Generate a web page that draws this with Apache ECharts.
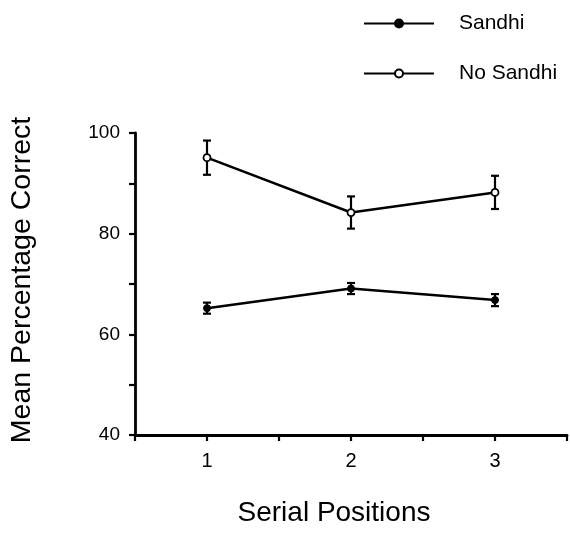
<!DOCTYPE html>
<html>
<head>
<meta charset="utf-8">
<script src="https://cdn.jsdelivr.net/npm/echarts@6/dist/echarts.min.js"></script>
<style>html,body{margin:0;padding:0;background:#fff;}#c{width:570px;height:533px;}</style>
</head>
<body>
<div id="c"></div>
<script>
var positions = [1, 2, 3];
var xTickLabels = ['1', '2', '3'];
var yTickLabels = [40, 60, 80, 100];
var sandhiMean = [65.2, 69.1, 66.8];
var sandhiErr = [1.1, 1.1, 1.2];
var noSandhiMean = [95.1, 84.2, 88.2];
var noSandhiErr = [3.4, 3.2, 3.3];
var seriesNames = ['Sandhi', 'No Sandhi'];
var xTitle = 'Serial Positions';
var yTitle = 'Mean Percentage Correct';

var FONT = '"Liberation Sans", Arial, Helvetica, sans-serif';

function pts(means) { return positions.map(function (p, i) { return [p, means[i]]; }); }
function errs(means, e) { return positions.map(function (p, i) { return [p, means[i] - e[i], means[i] + e[i]]; }); }

function errRender(params, api) {
  var x = api.value(0);
  var lo = api.coord([x, api.value(1)]);
  var hi = api.coord([x, api.value(2)]);
  var w = 4;
  var st = { stroke: '#000', lineWidth: 2.2 };
  return { type: 'group', children: [
    { type: 'line', shape: { x1: lo[0], y1: lo[1], x2: hi[0], y2: hi[1] }, style: st },
    { type: 'line', shape: { x1: lo[0] - w, y1: lo[1], x2: lo[0] + w, y2: lo[1] }, style: st },
    { type: 'line', shape: { x1: hi[0] - w, y1: hi[1], x2: hi[0] + w, y2: hi[1] }, style: st }
  ]};
}

var chart = echarts.init(document.getElementById('c'), null, { renderer: 'canvas' });
chart.setOption({
  animation: false,
  backgroundColor: '#fff',
  textStyle: { fontFamily: FONT, color: '#000' },
  grid: { left: 135, right: 0, top: 133, bottom: 98, containLabel: false },
  legend: {
    data: seriesNames,
    orient: 'vertical',
    left: 363,
    top: 13,
    itemWidth: 70,
    itemHeight: 10,
    itemGap: 29,
    padding: 0,
    textStyle: { fontFamily: FONT, fontSize: 21, color: '#000', padding: [0, 0, 0, 20] }
  },
  xAxis: {
    type: 'value',
    min: 0.5, max: 3.5, interval: 0.5,
    axisLine: { lineStyle: { color: '#000', width: 2.8 } },
    axisTick: { show: true, length: 6, lineStyle: { color: '#000', width: 2.2 } },
    splitLine: { show: false },
    axisLabel: {
      margin: 16, fontSize: 20, color: '#000', fontFamily: FONT,
      formatter: function (v) { var i = positions.indexOf(v); return i >= 0 ? xTickLabels[i] : ''; }
    }
  },
  yAxis: {
    type: 'value',
    min: 40, max: 100, interval: 10,
    axisLine: { show: true, lineStyle: { color: '#000', width: 2.8 } },
    axisTick: { show: true, length: 6, lineStyle: { color: '#000', width: 2.2 } },
    splitLine: { show: false },
    axisLabel: {
      margin: 15, fontSize: 19, color: '#000', fontFamily: FONT,
      formatter: function (v) { return yTickLabels.indexOf(v) >= 0 ? String(v) : ''; }
    }
  },
  graphic: [
    { type: 'text', x: 334, y: 513, silent: true,
      style: { text: xTitle, fontFamily: FONT, fontSize: 28, fill: '#000', align: 'center', verticalAlign: 'middle' } },
    { type: 'text', x: 22, y: 280, rotation: Math.PI / 2, silent: true,
      style: { text: yTitle, fontFamily: FONT, fontSize: 28.5, fill: '#000', align: 'center', verticalAlign: 'middle' } }
  ],
  series: [
    { type: 'custom', name: 'errS', renderItem: errRender, data: errs(sandhiMean, sandhiErr), z: 1, silent: true },
    { type: 'custom', name: 'errN', renderItem: errRender, data: errs(noSandhiMean, noSandhiErr), z: 1, silent: true },
    {
      type: 'line', name: seriesNames[0], data: pts(sandhiMean), z: 3,
      symbol: 'circle', symbolSize: 7,
      lineStyle: { color: '#000', width: 2.5 },
      itemStyle: { color: '#000', borderColor: '#000', borderWidth: 1 }
    },
    {
      type: 'line', name: seriesNames[1], data: pts(noSandhiMean), z: 3,
      symbol: 'circle', symbolSize: 7,
      lineStyle: { color: '#000', width: 2.5 },
      itemStyle: { color: '#fff', borderColor: '#000', borderWidth: 1.8 }
    }
  ]
});
</script>
</body>
</html>
